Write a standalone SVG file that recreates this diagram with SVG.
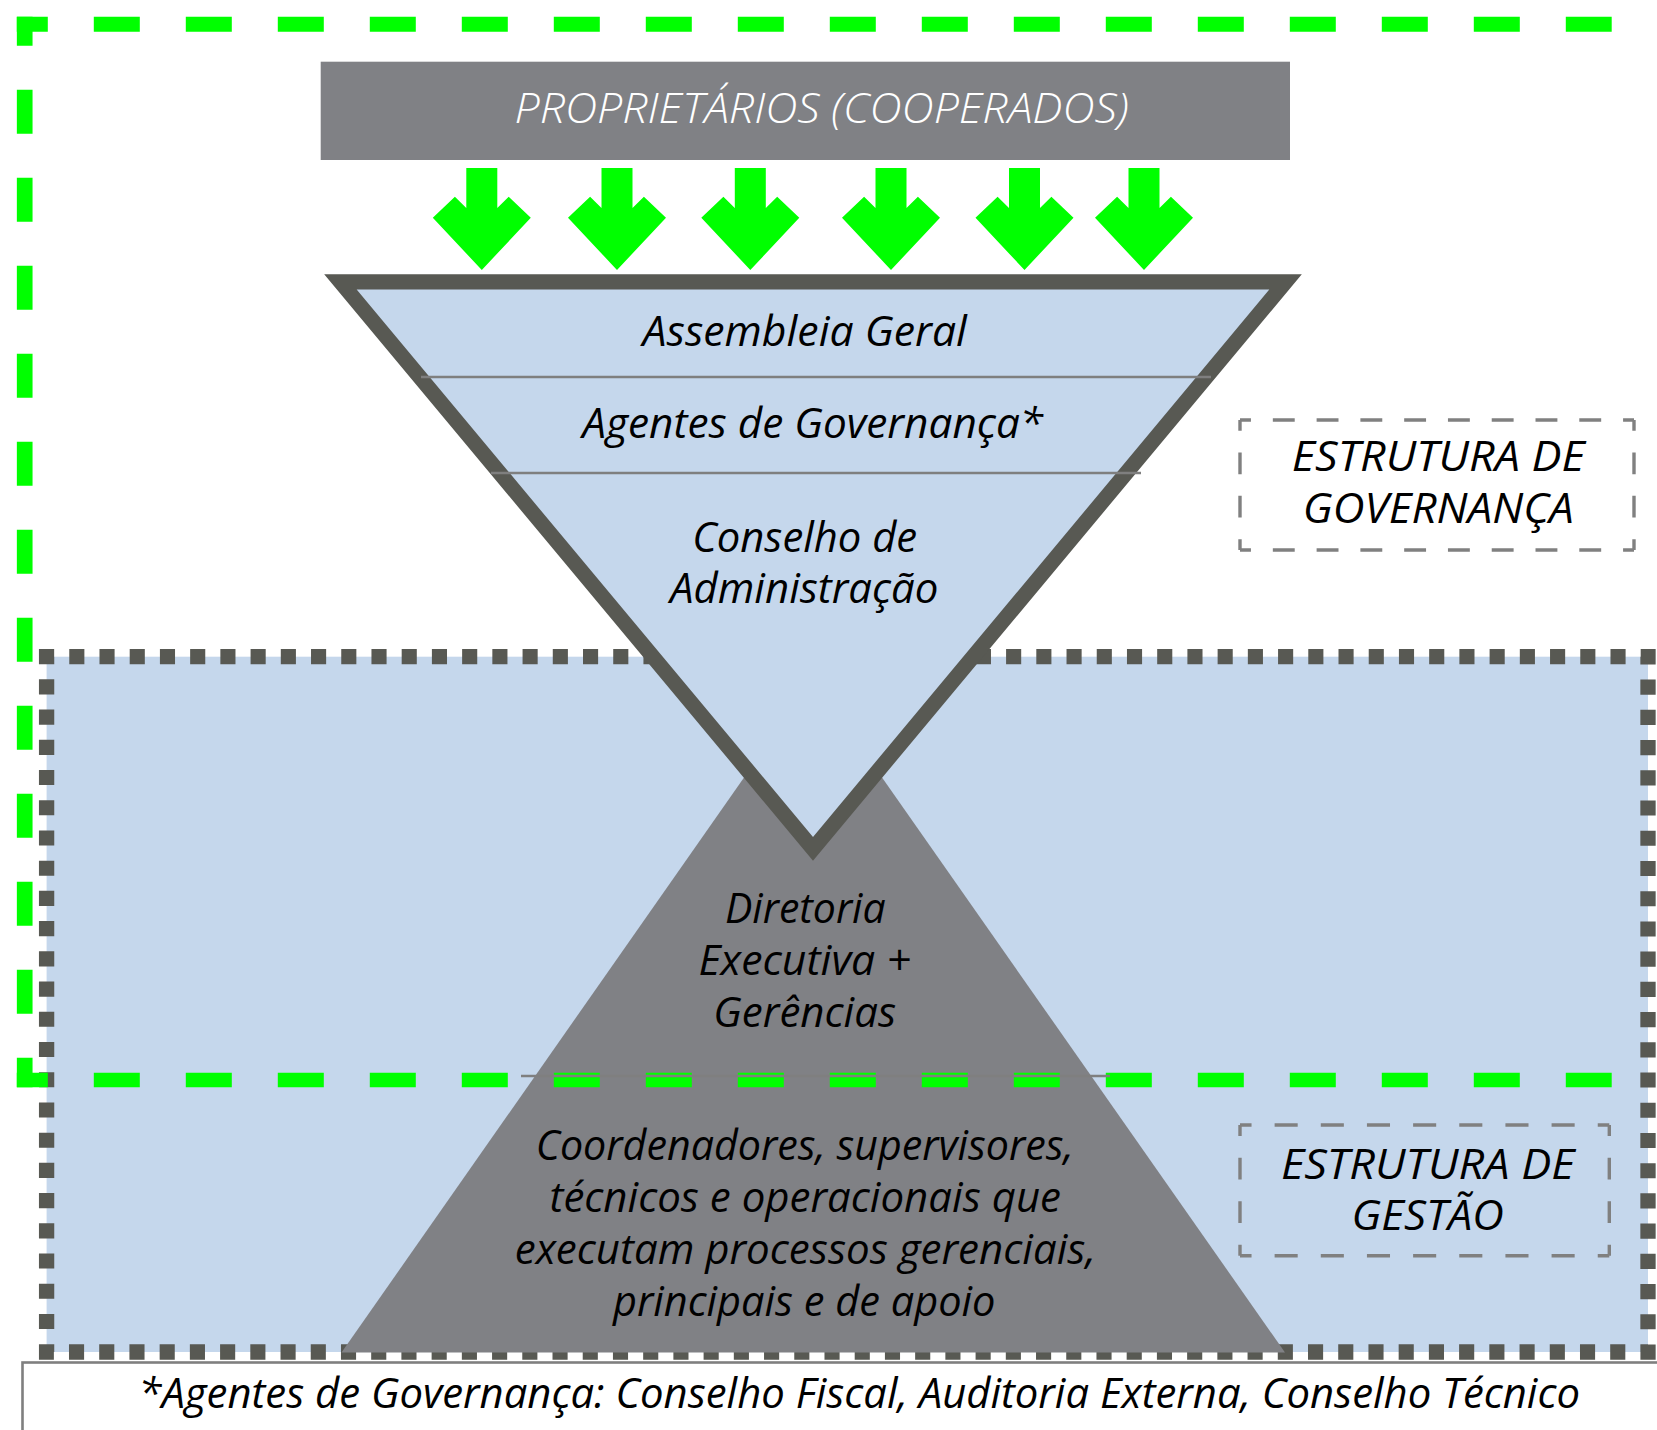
<svg xmlns="http://www.w3.org/2000/svg" xmlns:xlink="http://www.w3.org/1999/xlink" width="1657" height="1430" viewBox="0 0 1657 1430">
<defs>
<style>
.t{font-family:"Open Sans","Noto Sans","Liberation Sans",sans-serif;font-style:italic;font-size:42px;fill:#000;text-anchor:middle}
.w{fill:#fff;font-weight:300;font-size:42px}
.green{stroke:#00ff00;fill:none}
.div{stroke:#7f7f7f;stroke-width:2.6;fill:none}
.lbl{stroke:#808080;stroke-width:3.4;fill:none}
</style>
<path id="arr" d="M-15.5,168 L15.5,168 L15.5,208 L26.9,196.7 L49,217.7 L0,270 L-49,217.7 L-26.9,196.7 L-15.5,208 Z" fill="#00ff00"/>
</defs>
<rect width="1657" height="1430" fill="#fff"/>

<g id="gestao-area">
<rect x="46.6" y="656.7" width="1601.4" height="695.3" fill="#c5d7ec" stroke="#585953" stroke-width="15.3" stroke-dasharray="15.11 15.11" stroke-dashoffset="7.555"/>
</g>

<g id="gestao-triangle">
<polygon points="813,679 1285,1352.5 341.5,1352.5" fill="#808185"/>
</g>

<g id="governanca-funnel">
<polygon points="340.4,281.9 1285.6,281.9 813,848.8" fill="#c5d7ec" stroke="#585953" stroke-width="15.2" stroke-linejoin="miter"/>
<line class="div" x1="421" y1="377" x2="1211" y2="377"/>
<line class="div" x1="491" y1="473" x2="1141" y2="473"/>
</g>

<g id="green-frame">
<line class="green" x1="16.8" y1="24.2" x2="1611.7" y2="24.2" stroke-width="15" stroke-dasharray="46 46" stroke-dashoffset="15"/>
<line class="green" x1="24.7" y1="16.7" x2="24.7" y2="1087.3" stroke-width="15.7" stroke-dasharray="44 44" stroke-dashoffset="15"/>
<line class="green" x1="16.8" y1="1080" x2="1611.7" y2="1080" stroke-width="14.7" stroke-dasharray="46 46" stroke-dashoffset="15"/>
</g>

<g id="gestao-divider">
<line class="div" x1="521" y1="1076" x2="1110" y2="1076"/>
</g>

<g id="proprietarios">
<rect x="320.7" y="61.7" width="969.3" height="98.3" fill="#808185"/>
<text class="t w" x="821.6" y="123.3" textLength="614" lengthAdjust="spacingAndGlyphs">PROPRIETÁRIOS (COOPERADOS)</text>
</g>

<g id="connectors">
<use xlink:href="#arr" href="#arr" x="481.8" y="0"/>
<use xlink:href="#arr" href="#arr" x="617" y="0"/>
<use xlink:href="#arr" href="#arr" x="750.3" y="0"/>
<use xlink:href="#arr" href="#arr" x="891" y="0"/>
<use xlink:href="#arr" href="#arr" x="1024.5" y="0"/>
<use xlink:href="#arr" href="#arr" x="1144" y="0"/>
</g>

<g id="assembleia">
<text class="t" x="804.7" y="346" textLength="324.4" lengthAdjust="spacingAndGlyphs">Assembleia Geral</text>
</g>
<g id="agentes">
<text class="t" x="812.7" y="438" textLength="460.8" lengthAdjust="spacingAndGlyphs">Agentes de Governança*</text>
</g>
<g id="conselho">
<text class="t" x="804.7" y="551.7" textLength="225" lengthAdjust="spacingAndGlyphs">Conselho de</text>
<text class="t" x="804.2" y="603" textLength="268.4" lengthAdjust="spacingAndGlyphs">Administração</text>
</g>
<g id="diretoria">
<text class="t" x="805.3" y="923.3" textLength="160.6" lengthAdjust="spacingAndGlyphs">Diretoria</text>
<text class="t" x="804.7" y="975" textLength="212.4" lengthAdjust="spacingAndGlyphs">Executiva +</text>
<text class="t" x="804.7" y="1026.7" textLength="182.8" lengthAdjust="spacingAndGlyphs">Gerências</text>
</g>
<g id="coordenadores">
<text class="t" x="804.7" y="1159.5" textLength="538" lengthAdjust="spacingAndGlyphs">Coordenadores, supervisores,</text>
<text class="t" x="805.3" y="1211.5" textLength="511.5" lengthAdjust="spacingAndGlyphs">técnicos e operacionais que</text>
<text class="t" x="805.3" y="1263.5" textLength="581.2" lengthAdjust="spacingAndGlyphs">executam processos gerenciais,</text>
<text class="t" x="804.2" y="1315.5" textLength="382.6" lengthAdjust="spacingAndGlyphs">principais e de apoio</text>
</g>

<g id="estrutura-governanca">
<line class="lbl" x1="1240" y1="420" x2="1634" y2="420" stroke-dasharray="21.89 21.89" stroke-dashoffset="10.95"/>
<line class="lbl" x1="1240" y1="550" x2="1634" y2="550" stroke-dasharray="21.89 21.89" stroke-dashoffset="10.95"/>
<line class="lbl" x1="1240" y1="420" x2="1240" y2="550" stroke-dasharray="21.67 21.67" stroke-dashoffset="10.83"/>
<line class="lbl" x1="1634" y1="420" x2="1634" y2="550" stroke-dasharray="21.67 21.67" stroke-dashoffset="10.83"/>
<text class="t" x="1438.3" y="470.7" textLength="293" lengthAdjust="spacingAndGlyphs">ESTRUTURA DE</text>
<text class="t" x="1438.3" y="522.7" textLength="271" lengthAdjust="spacingAndGlyphs">GOVERNANÇA</text>
</g>

<g id="estrutura-gestao">
<line class="lbl" x1="1240" y1="1125" x2="1609.3" y2="1125" stroke-dasharray="23.08 23.08" stroke-dashoffset="11.54"/>
<line class="lbl" x1="1240" y1="1255.7" x2="1609.3" y2="1255.7" stroke-dasharray="23.08 23.08" stroke-dashoffset="11.54"/>
<line class="lbl" x1="1240" y1="1125" x2="1240" y2="1255.7" stroke-dasharray="21.78 21.78" stroke-dashoffset="10.89"/>
<line class="lbl" x1="1609.3" y1="1125" x2="1609.3" y2="1255.7" stroke-dasharray="21.78 21.78" stroke-dashoffset="10.89"/>
<text class="t" x="1427.7" y="1179" textLength="293.5" lengthAdjust="spacingAndGlyphs">ESTRUTURA DE</text>
<text class="t" x="1427.7" y="1230" textLength="152.2" lengthAdjust="spacingAndGlyphs">GESTÃO</text>
</g>

<g id="rodape">
<rect x="22.5" y="1362.5" width="1700" height="200" fill="#fff" stroke="#7f7f7f" stroke-width="2.6"/>
<text class="t" x="859.2" y="1407.5" textLength="1441.5" lengthAdjust="spacingAndGlyphs">*Agentes de Governança: Conselho Fiscal, Auditoria Externa, Conselho Técnico</text>
</g>
</svg>
